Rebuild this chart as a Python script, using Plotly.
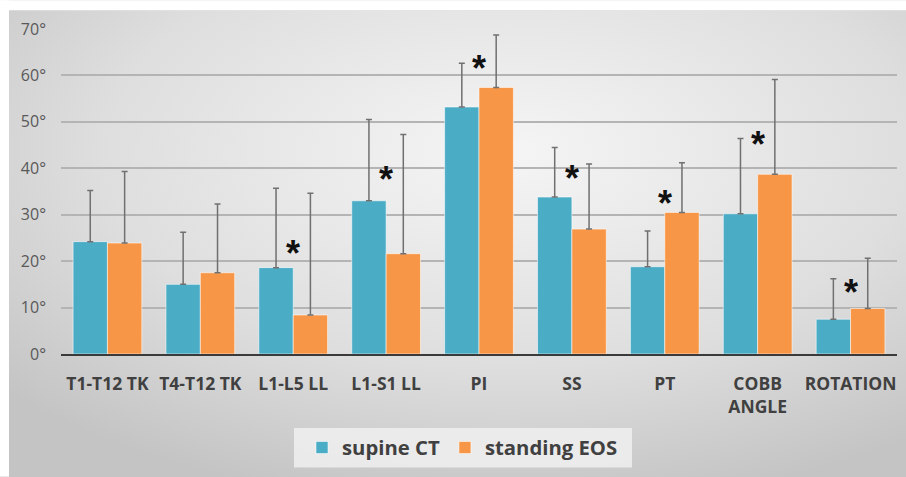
import base64
import plotly.graph_objects as go

categories = ["T1-T12 TK", "T4-T12 TK", "L1-L5 LL", "L1-S1 LL", "PI", "SS", "PT",
              "COBB<br>ANGLE", "ROTATION"]
supine_ct = [24.2, 15.0, 18.6, 33.0, 53.2, 33.8, 18.8, 30.2, 7.5]
supine_ct_sd = [11.0, 11.2, 17.1, 17.5, 9.4, 10.7, 7.7, 16.2, 8.7]
standing_eos = [23.9, 17.5, 8.4, 21.6, 57.4, 26.9, 30.5, 38.7, 9.8]
standing_eos_sd = [15.4, 14.8, 26.2, 25.7, 11.3, 14.0, 10.7, 20.4, 10.8]
# position (degrees) of the significance asterisk, None = not significant
significance_y = [None, None, 23.1, 39.0, 62.9, 39.4, 34.0, 46.6, 14.8]
y_ticks = [0, 10, 20, 30, 40, 50, 60, 70]
y_tick_labels = [f"{v}°" for v in y_ticks]

BLUE = "#4BACC6"
ORANGE = "#F79646"
ERR = "#707070"

W, H = 906, 477
ML, MR, MT, MB = 61, 9, 29, 119
PW, PH = W - ML - MR, H - MT - MB


def px_x(px):
    return (px - ML) / PW


def px_y(py):
    return (MT + PH - py) / PH


fig = go.Figure()
fig.add_trace(go.Bar(
    x=categories, y=supine_ct, name="supine CT",
    marker=dict(color=BLUE, line=dict(color="rgba(255,255,255,0.55)", width=1)),
    error_y=dict(type="data", symmetric=False, array=supine_ct_sd,
                 arrayminus=[0] * len(supine_ct_sd), color=ERR, thickness=1.5, width=3),
))
fig.add_trace(go.Bar(
    x=categories, y=standing_eos, name="standing EOS",
    marker=dict(color=ORANGE, line=dict(color="rgba(255,255,255,0.55)", width=1)),
    error_y=dict(type="data", symmetric=False, array=standing_eos_sd,
                 arrayminus=[0] * len(standing_eos_sd), color=ERR, thickness=1.5, width=3),
))

for cat, sy in zip(categories, significance_y):
    if sy is None:
        continue
    fig.add_annotation(x=cat, y=sy, text="<b>*</b>", showarrow=False,
                       font=dict(family="Liberation Sans", size=36, color="#111111"),
                       yanchor="middle", yshift=-7)

# gradient background
svg = ("<svg xmlns='http://www.w3.org/2000/svg' width='900' height='480' preserveAspectRatio='none'>"
       "<defs><radialGradient id='g' cx='0.55' cy='0.3' r='0.75'>"
       "<stop offset='0' stop-color='#f5f5f5'/><stop offset='0.6' stop-color='#dedede'/>"
       "<stop offset='1' stop-color='#c4c4c4'/></radialGradient></defs>"
       "<rect width='100%' height='100%' fill='url(#g)'/></svg>")
src = "data:image/svg+xml;base64," + base64.b64encode(svg.encode()).decode()
bx0, by0 = 9, 10
fig.add_layout_image(dict(
    source=src, xref="paper", yref="paper",
    x=px_x(bx0), y=px_y(by0),
    sizex=(W + 6 - bx0) / PW, sizey=(H + 14 - by0) / PH,
    xanchor="left", yanchor="top", sizing="stretch", layer="below",
))

# white frame on the left and top edges
fig.add_shape(type="rect", xref="paper", yref="paper",
              x0=px_x(0), x1=px_x(bx0), y0=px_y(H + 5), y1=px_y(0),
              fillcolor="white", line=dict(width=0), layer="below")
fig.add_shape(type="rect", xref="paper", yref="paper",
              x0=px_x(0), x1=px_x(W + 5), y0=px_y(by0), y1=px_y(0),
              fillcolor="white", line=dict(width=0), layer="below")

# legend box
fig.add_shape(type="rect", xref="paper", yref="paper",
              x0=px_x(294), x1=px_x(632), y0=px_y(473), y1=px_y(433),
              fillcolor="rgba(240,240,240,0.85)", line=dict(width=0), layer="below")

fig.update_layout(
    width=W, height=H,
    margin=dict(l=ML, r=MR, t=MT, b=MB),
    paper_bgcolor="#d2d2d2", plot_bgcolor="rgba(0,0,0,0)",
    barmode="group", bargap=0.26, bargroupgap=0,
    font=dict(family="Open Sans", color="#404040"),
    showlegend=True,
    legend=dict(orientation="h", x=px_x(302), xanchor="left",
                y=px_y(453), yanchor="middle",
                bgcolor="rgba(0,0,0,0)", borderwidth=0,
                font=dict(size=20.3, color="#404040", family="Open Sans", weight="bold"),
                itemwidth=30, tracegroupgap=0),
)
fig.update_xaxes(showgrid=False, showline=True, linecolor="#3a3a3a", linewidth=2,
                 ticks="", tickfont=dict(size=17.5, color="#404040", family="Open Sans", weight="bold"),
                 ticklabelstandoff=13)
fig.update_yaxes(range=[0, 70], tickmode="array", tickvals=y_ticks, ticktext=y_tick_labels,
                 showline=False, zeroline=False, gridcolor="#b4b4b4", gridwidth=1.5,
                 tickfont=dict(size=16, color="#595959", family="Open Sans"),
                 ticklabelstandoff=14)

fig.write_html("out.html", config={"displayModeBar": False},
               post_script="document.body.style.margin='0';document.body.style.overflow='hidden';")
